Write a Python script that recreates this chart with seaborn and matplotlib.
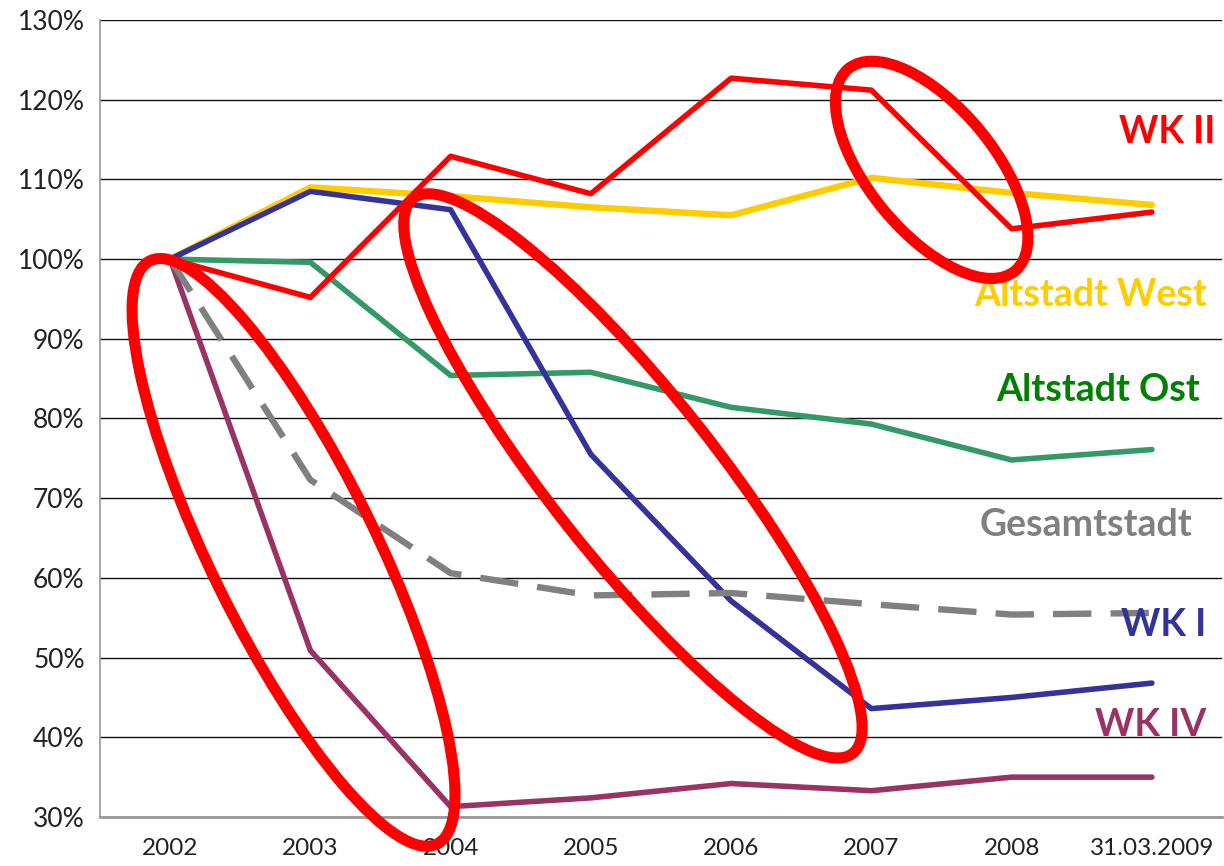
import pandas as pd
import matplotlib.pyplot as plt
import matplotlib.transforms as mtransforms
from matplotlib.patches import Ellipse
import seaborn as sns

# categories and values (percent, indexed to 2002 = 100)
years = ['2002', '2003', '2004', '2005', '2006', '2007', '2008', '31.03.2009']
wk_ii = [100, 95.2, 112.9, 108.2, 122.7, 121.2, 103.8, 105.9]
altstadt_west = [100, 109.0, 107.9, 106.5, 105.5, 110.2, 108.3, 106.8]
altstadt_ost = [100, 99.6, 85.4, 85.8, 81.4, 79.3, 74.8, 76.1]
gesamtstadt = [100, 72.3, 60.6, 57.8, 58.1, 56.7, 55.4, 55.6]
wk_i = [100, 108.5, 106.2, 75.5, 57.1, 43.6, 45.0, 46.8]
wk_iv = [100, 50.9, 31.3, 32.4, 34.2, 33.3, 35.0, 35.0]

series = {
    'Altstadt West': altstadt_west,
    'Altstadt Ost': altstadt_ost,
    'WK IV': wk_iv,
    'WK I': wk_i,
    'Gesamtstadt': gesamtstadt,
    'WK II': wk_ii,
}
line_colors = {
    'Altstadt West': '#FFCC00',
    'Altstadt Ost': '#339966',
    'WK IV': '#993366',
    'WK I': '#333399',
    'Gesamtstadt': '#808080',
    'WK II': '#FF0000',
}
label_colors = {
    'WK II': '#FF0000',
    'Altstadt West': '#FFCC00',
    'Altstadt Ost': '#008000',
    'Gesamtstadt': '#808080',
    'WK I': '#333399',
    'WK IV': '#993366',
}
# label anchors (right edge in category units, height in percent)
label_pos = {'WK II': (7.45, 115.9), 'Altstadt West': (7.39, 95.5),
             'Altstadt Ost': (7.34, 83.6), 'Gesamtstadt': (7.29, 66.6),
             'WK I': (7.39, 54.1), 'WK IV': (7.39, 41.5)}

df = pd.DataFrame([
    {'year': y, 'value': v, 'series': name}
    for name, vals in series.items() for y, v in zip(years, vals)
])

sns.set_style('white')
plt.rcParams['font.family'] = ['Lato', 'DejaVu Sans']

fig = plt.figure(figsize=(12.24, 8.66), dpi=100)
ax = fig.add_axes([100 / 1224, 49 / 866, 1122 / 1224, 797 / 866])

for name in series:
    sub = df[df['series'] == name]
    dashed = name == 'Gesamtstadt'
    sns.lineplot(data=sub, x='year', y='value', ax=ax, color=line_colors[name],
                 linewidth=4.6 if name in ('Altstadt West', 'Gesamtstadt') else 4.0,
                 linestyle=(0, (6, 3)) if dashed else '-',
                 solid_capstyle='round', sort=False, legend=False)

ax.set_xlim(-0.5, 7.5)
ax.set_ylim(30, 130)
ax.set_yticks(range(30, 131, 10))
ax.set_yticklabels([f'{v}%' for v in range(30, 131, 10)], fontsize=19, color='#222222')
ax.set_xticks(range(len(years)))
ax.set_xticklabels(years, fontsize=17.5, color='#222222')
ax.set_xticks([k - 0.5 for k in range(len(years) + 1)], minor=True)
ax.tick_params(axis='x', which='major', length=0, pad=15)
ax.tick_params(axis='x', which='minor', length=8, width=1, color='#808080', direction='out')
ax.tick_params(axis='y', length=7, width=1, color='#808080', direction='out', pad=4)
ax.set_xlabel('')
ax.set_ylabel('')
ax.yaxis.grid(True, color='#111111', linewidth=1)
ax.set_axisbelow(True)
for side in ('top', 'right'):
    ax.spines[side].set_visible(False)
ax.spines['left'].set_color('#999999')
ax.spines['left'].set_linewidth(1.2)
ax.spines['bottom'].set_color('#999999')
ax.spines['bottom'].set_linewidth(2)

for name, (xv, yv) in label_pos.items():
    ax.text(xv, yv, name, color=label_colors[name], fontsize=27,
            fontweight='bold', ha='right', va='center')

# red highlight ellipses: centre in data units, size in pixels
ellipses = [
    ((0.88, 63.2), 650, 165, -63.8),
    ((3.3, 72.8), 708, 165, -51.6),
    ((5.43, 111.2), 262, 125, -50.5),
]
for (cx, cy), w, h, ang in ellipses:
    tr = mtransforms.ScaledTranslation(cx, cy, ax.transData)
    ax.add_patch(Ellipse((0, 0), w, h, angle=ang, fill=False, edgecolor='#FF0000',
                         linewidth=8, transform=tr, clip_on=False, zorder=10))

fig.savefig('out.png', dpi=100)
